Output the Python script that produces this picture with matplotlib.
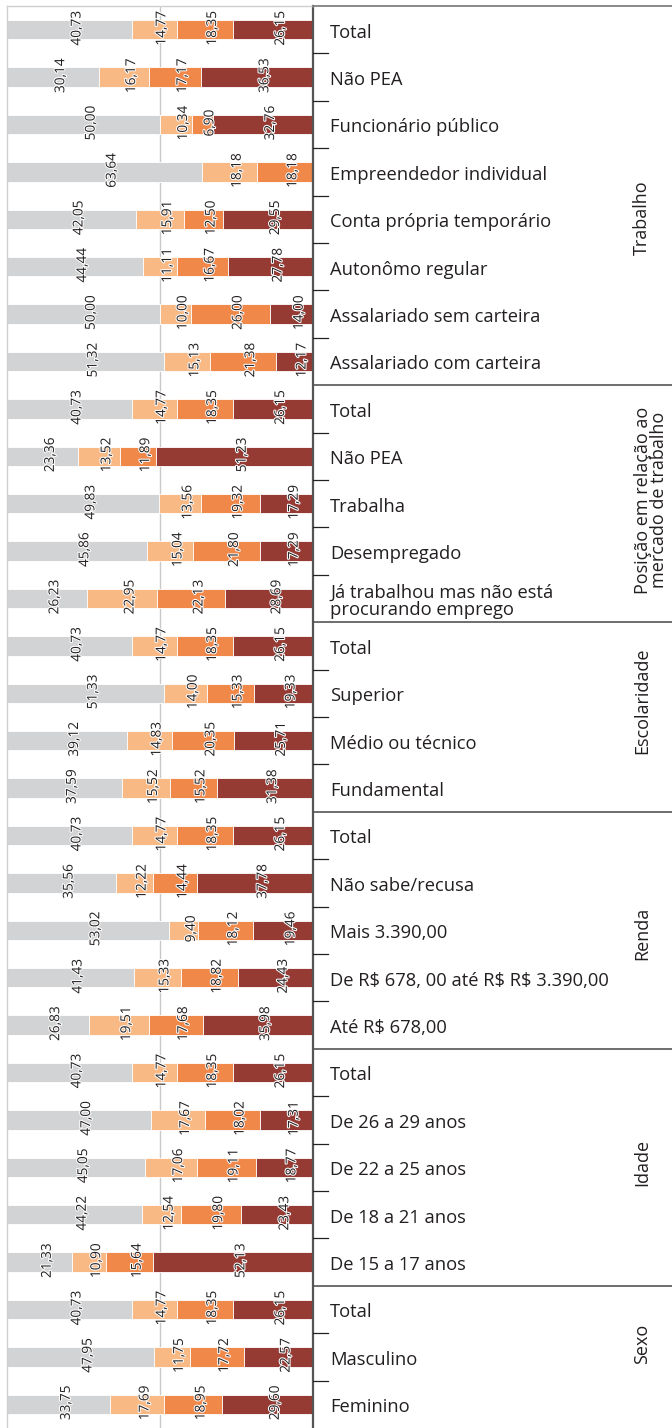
import matplotlib.pyplot as plt
import matplotlib.patheffects as pe
import numpy as np

plt.rcParams['font.family'] = ['Open Sans', 'DejaVu Sans']

# dados
grupos = ['Trabalho', 'Posição em relação ao\nmercado de trabalho', 'Escolaridade',
          'Renda', 'Idade', 'Sexo']
tam_grupo = [8, 5, 4, 5, 5, 3]
categorias = [
    'Total', 'Não PEA', 'Funcionário público', 'Empreendedor individual',
    'Conta própria temporário', 'Autonômo regular', 'Assalariado sem carteira',
    'Assalariado com carteira',
    'Total', 'Não PEA', 'Trabalha', 'Desempregado',
    'Já trabalhou mas não está\nprocurando emprego',
    'Total', 'Superior', 'Médio ou técnico', 'Fundamental',
    'Total', 'Não sabe/recusa', 'Mais 3.390,00', 'De R$ 678, 00 até R$ R$ 3.390,00',
    'Até R$ 678,00',
    'Total', 'De 26 a 29 anos', 'De 22 a 25 anos', 'De 18 a 21 anos', 'De 15 a 17 anos',
    'Total', 'Masculino', 'Feminino',
]
serie1 = [40.73, 30.14, 50.00, 63.64, 42.05, 44.44, 50.00, 51.32,
          40.73, 23.36, 49.83, 45.86, 26.23,
          40.73, 51.33, 39.12, 37.59,
          40.73, 35.56, 53.02, 41.43, 26.83,
          40.73, 47.00, 45.05, 44.22, 21.33,
          40.73, 47.95, 33.75]
serie2 = [14.77, 16.17, 10.34, 18.18, 15.91, 11.11, 10.00, 15.13,
          14.77, 13.52, 13.56, 15.04, 22.95,
          14.77, 14.00, 14.83, 15.52,
          14.77, 12.22, 9.40, 15.33, 19.51,
          14.77, 17.67, 17.06, 12.54, 10.90,
          14.77, 11.75, 17.69]
serie3 = [18.35, 17.17, 6.90, 18.18, 12.50, 16.67, 26.00, 21.38,
          18.35, 11.89, 19.32, 21.80, 22.13,
          18.35, 15.33, 20.35, 15.52,
          18.35, 14.44, 18.12, 18.82, 17.68,
          18.35, 18.02, 19.11, 19.80, 15.64,
          18.35, 17.72, 18.95]
serie4 = [26.15, 36.53, 32.76, 0.00, 29.55, 27.78, 14.00, 12.17,
          26.15, 51.23, 17.29, 17.29, 28.69,
          26.15, 19.33, 25.71, 31.38,
          26.15, 37.78, 19.46, 24.43, 35.98,
          26.15, 17.31, 18.77, 23.43, 52.13,
          26.15, 22.57, 29.60]
cores = ['#d1d3d4', '#f9b984', '#f0884a', '#963a34']

# posicao vertical (em linhas) dos titulos de grupo
pos_grupo = [3.97, 9.92, 14.15, 19.06, 23.9, 27.73]
x_grupo = [329, 338, 329, 329, 329, 329]

W, H = 672, 1428
fig = plt.figure(figsize=(W / 100, H / 100), dpi=100)
ax = fig.add_axes([7 / W, 0, 306 / W, 1422 / H])

n = len(categorias)
y = np.arange(n)
esq = np.zeros(n)
cor_txt = '#231f20'
halo = [pe.withStroke(linewidth=1.5, foreground='white')]
for vals, cor in zip([serie1, serie2, serie3, serie4], cores):
    vals = np.array(vals)
    ax.barh(y, vals, left=esq, height=0.41, color=cor, edgecolor='white', linewidth=0.6, zorder=2)
    for i in range(n):
        if vals[i] > 0:
            ax.annotate(f'{vals[i]:.2f}'.replace('.', ','), (esq[i] + vals[i] / 2, i),
                        xytext=(5.5, 1), textcoords='offset points', rotation=90,
                        ha='center', va='center', fontsize=9.8, color=cor_txt,
                        path_effects=halo, zorder=3)
    esq += vals

ax.set_xlim(0, 100)
ax.set_ylim(n - 0.5, -0.5)
ax.axvline(50, color='#c8c8c8', lw=1, zorder=1)
ax.set_xticks([])
ax.set_yticks([])
for s in ['left', 'top']:
    ax.spines[s].set_color('#cfcfcf')
    ax.spines[s].set_linewidth(1)
ax.spines['bottom'].set_visible(False)
ax.spines['right'].set_color('#555555')
ax.spines['right'].set_linewidth(1.6)

# tabela da direita
ax2 = fig.add_axes([313 / W, 0, 359 / W, 1422 / H])
ax2.set_xlim(0, 359)
ax2.set_ylim(n - 0.5, -0.5)
ax2.axis('off')
ax2.plot([0, 359], [-0.5, -0.5], color='#777777', lw=1.2, clip_on=False)

for i, cat in enumerate(categorias):
    ax2.text(17, i + 0.06, cat, ha='left', va='center', fontsize=13.2, color=cor_txt,
             linespacing=0.92)

limites = np.cumsum(tam_grupo)
for b in range(1, n):
    if b in limites:
        ax2.plot([0, 359], [b - 0.5, b - 0.5], color='#555555', lw=1.2)
    else:
        ax2.plot([0, 15], [b - 0.5, b - 0.5], color='#222222', lw=0.9)

for g, py, px in zip(grupos, pos_grupo, x_grupo):
    ax2.text(px, py, g, rotation=90, ha='center', va='center', fontsize=13,
             color=cor_txt, linespacing=0.92, multialignment='center')

fig.savefig('out.png', dpi=100)
